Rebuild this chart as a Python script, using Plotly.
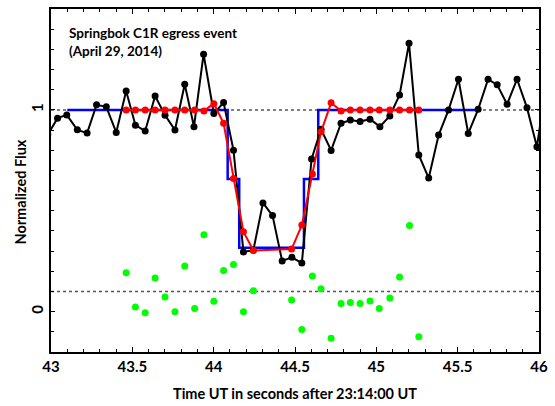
import plotly.graph_objects as go

# Observed light curve (black)
obs_t = [42.980, 43.040, 43.097, 43.162, 43.222, 43.280, 43.340, 43.401, 43.462, 43.519,
         43.579, 43.640, 43.701, 43.762, 43.822, 43.879, 43.938, 44.001, 44.061, 44.122,
         44.183, 44.244, 44.303, 44.362, 44.421, 44.481, 44.542, 44.602, 44.660, 44.722,
         44.783, 44.840, 44.900, 44.961, 45.022, 45.083, 45.143, 45.201, 45.261, 45.322,
         45.383, 45.444, 45.505, 45.565, 45.626, 45.687, 45.743, 45.804, 45.865, 45.926,
         45.987, 46.048]
obs_f = [0.877, 0.959, 0.975, 0.901, 0.885, 1.025, 1.015, 0.888, 1.094, 0.924,
         0.895, 1.069, 0.974, 0.900, 1.127, 0.917, 1.276, 0.982, 1.036, 0.800,
         0.296, 0.305, 0.539, 0.476, 0.251, 0.269, 0.241, 0.757, 0.904, 0.799,
         0.934, 0.950, 0.942, 0.954, 0.917, 0.970, 1.074, 1.330, 0.777, 0.662,
         0.875, 1.000, 1.152, 0.883, 1.003, 1.152, 1.124, 1.028, 1.152, 1.011,
         0.817, 1.144]

# Model fit (red)
fit_t = [43.462, 43.519, 43.579, 43.640, 43.701, 43.762, 43.822, 43.883, 43.940, 44.001,
         44.061, 44.122, 44.183, 44.244, 44.479, 44.542, 44.607, 44.660, 44.722, 44.783,
         44.840, 44.900, 44.961, 45.018, 45.083, 45.143, 45.204, 45.261]
fit_f = [1.0, 1.0, 1.0, 1.0, 1.0, 1.0, 1.0, 1.0, 0.995, 1.031,
         0.934, 0.660, 0.396, 0.303, 0.310, 0.429, 0.682, 0.891, 1.035, 0.995,
         1.0, 1.0, 1.0, 1.0, 1.0, 1.0, 1.0, 1.0]

# Residuals + 0.1 offset (green)
res_f = [0.193, 0.023, -0.006, 0.167, 0.073, 0.0, 0.226, 0.016, 0.381, 0.051,
         0.204, 0.234, 0.0, 0.104, 0.058, -0.088, 0.177, 0.114, -0.132, 0.040,
         0.045, 0.040, 0.053, 0.016, 0.068, 0.172, 0.427, -0.124]

# Step profile (blue)
step_t = [43.10, 44.086, 44.157, 44.555, 44.643, 45.62]
step_f = [1.0, 0.657, 0.317, 0.657, 1.0, 1.0]

# Reference levels
upper_level = 1.0
lower_level = 0.1

FONT = "Lato"

fig = go.Figure()

fig.add_trace(go.Scatter(x=step_t, y=step_f, mode="lines", line_shape="hv",
                         line=dict(color="#0000ff", width=2.5), hoverinfo="skip"))
fig.add_trace(go.Scatter(x=obs_t, y=obs_f, mode="lines+markers",
                         line=dict(color="black", width=2),
                         marker=dict(color="black", size=7)))
fig.add_trace(go.Scatter(x=fit_t, y=fit_f, mode="lines+markers",
                         line=dict(color="#ff0000", width=2),
                         marker=dict(color="#ff0000", size=7)))
fig.add_trace(go.Scatter(x=fit_t, y=res_f, mode="markers",
                         marker=dict(color="#00ff00", size=7)))

for lvl in (upper_level, lower_level):
    fig.add_shape(type="line", xref="paper", x0=0, x1=1, yref="y", y0=lvl, y1=lvl,
                  line=dict(color="#555555", width=1.5, dash="dot"), layer="below")

fig.update_xaxes(range=[43, 46], tickvals=[43, 43.5, 44, 44.5, 45, 45.5, 46],
                 ticktext=["43", "43.5", "44", "44.5", "45", "45.5", "46"],
                 ticks="inside", ticklen=5, tickwidth=1, tickcolor="black",
                 minor=dict(dtick=0.1, ticks="inside", ticklen=3, tickcolor="black"),
                 showline=True, linecolor="black", linewidth=1.5, mirror="allticks",
                 showgrid=False, zeroline=False,
                 tickfont=dict(family=FONT, size=15, color="black", weight="bold"))
fig.update_yaxes(range=[-0.2, 1.5], tickvals=[0, 1], ticktext=["0", "1"], tickangle=-90,
                 ticks="inside", ticklen=4, tickwidth=1, tickcolor="black",
                 minor=dict(dtick=0.1, tick0=0, ticks="inside", ticklen=3, tickcolor="black"),
                 showline=True, linecolor="black", linewidth=1.5, mirror="allticks",
                 showgrid=False, zeroline=False,
                 tickfont=dict(family=FONT, size=15, color="black", weight="bold"))

fig.add_annotation(text="<b>Springbok C1R egress event</b><br><b>(April 29, 2014)</b>",
                   xref="paper", yref="paper", x=0.033, y=0.958, xanchor="left", yanchor="top",
                   align="left", showarrow=False,
                   font=dict(family=FONT, size=13.5, color="black"))
fig.add_annotation(text="<b>Time UT in seconds after 23:14:00 UT</b>",
                   xref="paper", yref="paper", x=0.5, y=-0.12, xanchor="center", yanchor="middle",
                   showarrow=False, font=dict(family=FONT, size=14.5, color="black"))
fig.add_annotation(text="<b>Normalized Flux</b>", textangle=-90,
                   xref="paper", yref="paper", x=-0.062, y=0.467, xanchor="center", yanchor="middle",
                   showarrow=False, font=dict(family=FONT, size=14.5, color="black"))

fig.update_layout(width=555, height=406, margin=dict(l=51, r=11, t=7, b=54),
                  paper_bgcolor="white", plot_bgcolor="white", showlegend=False)

fig.write_html("out.html")
